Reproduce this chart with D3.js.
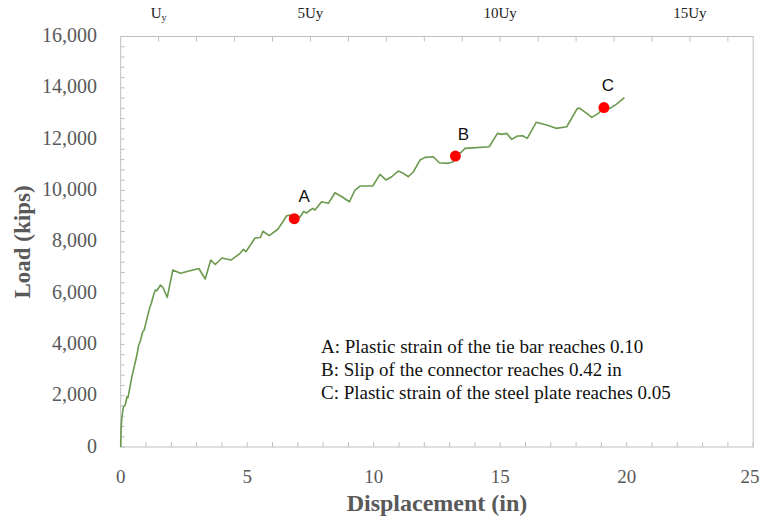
<!DOCTYPE html>
<html>
<head>
<meta charset="utf-8">
<script src="https://cdn.jsdelivr.net/npm/d3@7"></script>
<style>
  html, body { margin: 0; padding: 0; background: #fff; }
  svg { display: block; }
</style>
</head>
<body>
<svg id="chart" width="761" height="516"></svg>
<script>
// Load–displacement response (displacement in inches, load in kips)
const displacement = [
  0, 0.02, 0.05, 0.11, 0.18, 0.25, 0.29, 0.38, 0.47, 0.55, 0.64, 0.71, 0.77, 0.87, 0.93,
  1.04, 1.14, 1.21, 1.30, 1.37, 1.43, 1.57, 1.67, 1.84, 2.06, 2.36, 3.09, 3.34, 3.56, 3.74,
  4.00, 4.36, 4.72, 4.85, 4.95, 5.31, 5.52, 5.62, 5.87, 6.21, 6.41, 6.55, 6.69, 6.86, 7.09,
  7.23, 7.34, 7.46, 7.60, 7.68, 7.94, 8.21, 8.47, 8.74, 9.04, 9.26, 9.46, 9.96, 10.25, 10.49,
  10.71, 10.97, 11.17, 11.37, 11.57, 11.83, 12.03, 12.36, 12.59, 12.95, 13.15, 13.23, 13.48, 13.61,
  14.57, 14.89, 15.06, 15.26, 15.45, 15.68, 15.89, 16.07, 16.42, 16.84, 17.21, 17.63, 18.05, 18.15,
  18.42, 18.62, 18.88, 19.10, 19.34, 19.60, 19.91
];
const load = [
  0, 790, 1181, 1570, 1637, 1968, 1921, 2416, 2872, 3196, 3585, 3975, 4104, 4493, 4559,
  5015, 5405, 5600, 5923, 6118, 6091, 6313, 6216, 5834, 6898, 6769, 6956, 6547, 7287, 7112,
  7365, 7287, 7548, 7704, 7611, 8145, 8164, 8410, 8242, 8488, 8780, 9002, 9041, 8900, 8963,
  9177, 9119, 9216, 9302, 9236, 9559, 9497, 9910, 9754, 9559, 10015, 10171, 10171, 10627, 10405,
  10534, 10756, 10666, 10534, 10728, 11184, 11290, 11313, 11079, 11056, 11118, 11340, 11508, 11640,
  11703, 12225, 12186, 12225, 11991, 12120, 12131, 12030, 12654, 12548, 12420, 12482, 13199, 13199,
  13004, 12848, 13004, 13230, 13199, 13367, 13620
];

// Damage states marked on the curve
const eventLabels = ["A", "B", "C"];
const eventDisp = [6.86, 13.23, 19.10];
const eventLoad = [8900, 11340, 13230];
const eventNotes = [
  "A: Plastic strain of the tie bar reaches 0.10",
  "B: Slip of the connector reaches 0.42 in",
  "C: Plastic strain of the steel plate reaches 0.05"
];

// Axis ticks
const xTicks = [0, 5, 10, 15, 20, 25];
const yTicks = [0, 2000, 4000, 6000, 8000, 10000, 12000, 14000, 16000];
const yieldDisp = 1.5;               // Uy, inches
const topMultiples = [1, 5, 10, 15]; // labelled multiples of Uy

const W = 761;
const svg = d3.select("#chart");
const x = d3.scaleLinear().domain([0, 25]).range([120.7, 753.2]);
const y = d3.scaleLinear().domain([0, 16000]).range([447, 36.5]);

const axisColor = "#bfbfbf";
const textColor = "#595959";
const serif = "'Liberation Serif', 'Times New Roman', serif";

// Plot frame
const g = svg.append("g");
g.append("rect")
  .attr("x", x(0)).attr("y", y(16000))
  .attr("width", x(25) - x(0)).attr("height", y(0) - y(16000))
  .attr("fill", "none").attr("stroke", axisColor).attr("stroke-width", 1);

// Minor ticks on the left (every 400 kips), bottom (every inch), top (every Uy)
const yMinor = d3.range(0, 16001, 400);
g.selectAll(".ytk").data(yMinor).join("line")
  .attr("x1", x(0)).attr("x2", x(0) + 4)
  .attr("y1", d => y(d)).attr("y2", d => y(d))
  .attr("stroke", axisColor);

const xMinor = d3.range(0, 26, 1);
g.selectAll(".xtk").data(xMinor).join("line")
  .attr("x1", d => x(d)).attr("x2", d => x(d))
  .attr("y1", y(0)).attr("y2", y(0) - 5)
  .attr("stroke", axisColor);

const topMinor = d3.range(1, 17).map(k => k * yieldDisp).filter(v => v <= 25);
g.selectAll(".ttk").data(topMinor).join("line")
  .attr("x1", d => x(d)).attr("x2", d => x(d))
  .attr("y1", y(16000)).attr("y2", y(16000) + 5)
  .attr("stroke", axisColor);

// Tick labels
g.selectAll(".ylab").data(yTicks).join("text")
  .attr("x", 97).attr("y", d => y(d) + 1)
  .attr("text-anchor", "end").attr("dominant-baseline", "middle")
  .attr("font-family", serif).attr("font-size", 20).attr("fill", textColor)
  .text(d => d3.format(",")(d));

// Bottom labels; the last one is kept inside the page edge
g.selectAll(".xlab").data(xTicks).join("text")
  .attr("x", d => Math.min(x(d), W - 11))
  .attr("y", 479)
  .attr("text-anchor", "middle").attr("dominant-baseline", "middle")
  .attr("font-family", serif).attr("font-size", 19).attr("fill", textColor)
  .text(d => d);

// Top labels in multiples of the yield displacement
const topG = g.selectAll(".toplab").data(topMultiples).join("text")
  .attr("x", d => x(d * yieldDisp)).attr("y", 15)
  .attr("text-anchor", "middle").attr("dominant-baseline", "middle")
  .attr("font-family", serif).attr("font-size", 15).attr("fill", "#222");
topG.each(function(d) {
  const t = d3.select(this);
  if (d === 1) {
    t.append("tspan").text("U");
    t.append("tspan").attr("font-size", 10).attr("dy", 4).text("y");
  } else {
    t.text(d + "Uy");
  }
});

// Axis titles
g.append("text")
  .attr("x", 437).attr("y", 505)
  .attr("text-anchor", "middle").attr("dominant-baseline", "middle")
  .attr("font-family", serif).attr("font-size", 24).attr("font-weight", "bold")
  .attr("fill", textColor).text("Displacement (in)");

g.append("text")
  .attr("transform", "translate(25,242) rotate(-90)")
  .attr("text-anchor", "middle").attr("dominant-baseline", "middle")
  .attr("font-family", serif).attr("font-size", 23).attr("font-weight", "bold")
  .attr("fill", textColor).text("Load (kips)");

// Response curve
const pts = displacement.map((d, i) => [d, load[i]]);
g.append("path")
  .datum(pts)
  .attr("fill", "none").attr("stroke", "#6b9a4e").attr("stroke-width", 1.6)
  .attr("stroke-linejoin", "round")
  .attr("d", d3.line().x(d => x(d[0])).y(d => y(d[1])));

// Event markers and letters
const labelShift = [10, 8, 4];
eventLabels.forEach((lab, i) => {
  g.append("circle")
    .attr("cx", x(eventDisp[i])).attr("cy", y(eventLoad[i]))
    .attr("r", 5.5).attr("fill", "#ff0000");
  g.append("text")
    .attr("x", x(eventDisp[i]) + labelShift[i]).attr("y", y(eventLoad[i]) - 21)
    .attr("text-anchor", "middle").attr("dominant-baseline", "middle")
    .attr("font-family", "'Liberation Sans', Arial, sans-serif").attr("font-size", 17)
    .attr("fill", "#111").text(lab);
});

// Notes describing each event
g.selectAll(".note").data(eventNotes).join("text")
  .attr("x", 321).attr("y", (d, i) => 349 + i * 23)
  .attr("dominant-baseline", "middle")
  .attr("font-family", serif).attr("font-size", 19).attr("fill", "#111")
  .text(d => d);
</script>
</body>
</html>
